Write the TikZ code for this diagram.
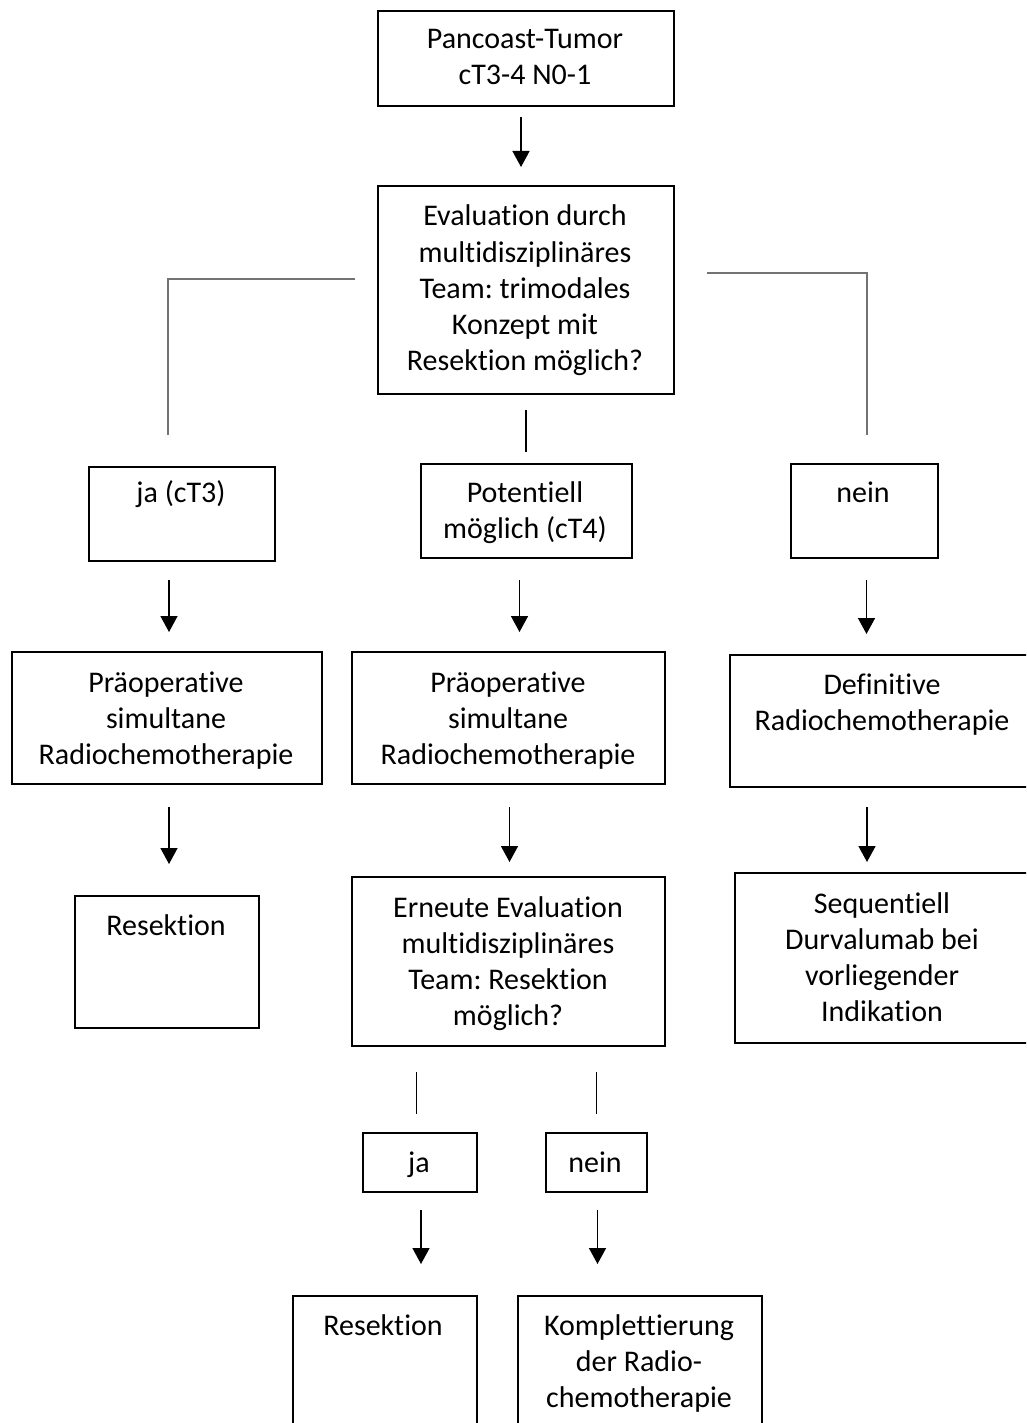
\documentclass[tikz,border=0pt]{standalone}
\usepackage{fontspec}
\setmainfont{Carlito}[Ligatures={NoCommon,NoRare,NoContextual}]
\usetikzlibrary{arrows.meta}
\begin{document}
\frenchspacing
\begin{tikzpicture}[x=1pt,y=-1pt,
  box/.style={draw=black, line width=2pt, inner sep=0pt, anchor=north west},
  txt/.style={font=\fontsize{30}{36}\selectfont\frenchspacing, text width=340pt, align=flush center, anchor=base, inner sep=0pt},
  arr/.style={draw=black, line width=1.5pt, -{Triangle[length=16pt,width=17pt]}},
  conn/.style={draw=black!55, line width=2pt},
  thin/.style={draw=black, line width=1.2pt}]
\useasboundingbox (0,0) rectangle (1026,1423);
\clip (0,0) rectangle (1026,1423);
\fill[white] (0,0) rectangle (1026,1423);

% boxes
\node[box, minimum width=296pt, minimum height=95pt]  (top)   at (377,10)   {};
\node[box, minimum width=296pt, minimum height=208pt] (eval)  at (377,185)  {};
\node[box, minimum width=186pt, minimum height=94pt]  (jac)   at (88,466)   {};
\node[box, minimum width=211pt, minimum height=94pt]  (pot)   at (420,463)  {};
\node[box, minimum width=147pt, minimum height=94pt]  (neinA) at (790,463)  {};
\node[box, minimum width=310pt, minimum height=132pt] (praeL) at (11,651)   {};
\node[box, minimum width=313pt, minimum height=132pt] (praeM) at (351,651)  {};
\node[box, minimum width=306pt, minimum height=132pt] (def)   at (729,654)  {};
\node[box, minimum width=184pt, minimum height=132pt] (resL)  at (74,895)   {};
\node[box, minimum width=313pt, minimum height=169pt] (ern)   at (351,876)  {};
\node[box, minimum width=296pt, minimum height=170pt] (seq)   at (734,872)  {};
\node[box, minimum width=114pt, minimum height=59pt]  (jaB)   at (362,1132) {};
\node[box, minimum width=101pt, minimum height=59pt]  (neinB) at (545,1132) {};
\node[box, minimum width=184pt, minimum height=160pt] (resB)  at (292,1295) {};
\node[box, minimum width=244pt, minimum height=160pt] (kompl) at (517,1295) {};

% texts
\node[txt] (ttop)   at (525,49)   {Pancoast-Tumor\\cT3-4 N0-1};
\node[txt] (teval)  at (525,226)  {Evaluation durch\\multidisziplinäres\\Team: trimodales\\Konzept mit\\Resektion möglich?};
\node[txt] (tjac)   at (181,502)  {ja (cT3)};
\node[txt] (tpot)   at (525,502)  {Potentiell\\möglich (cT4)};
\node[txt] (tneinA) at (863,502)  {nein};
\node[txt] (tpraeL) at (166,692)  {Präoperative\\simultane\\Radiochemotherapie};
\node[txt] (tpraeM) at (508,692)  {Präoperative\\simultane\\Radiochemotherapie};
\node[txt] (tdef)   at (882,694)  {Definitive\\Radiochemotherapie};
\node[txt] (tresL)  at (166,935)  {Resektion};
\node[txt] (tern)   at (508,917)  {Erneute Evaluation\\multidisziplinäres\\Team: Resektion\\möglich?};
\node[txt] (tseq)   at (882,913)  {Sequentiell\\Durvalumab bei\\vorliegender\\Indikation};
\node[txt] (tjaB)   at (419,1172) {ja};
\node[txt] (tneinB) at (595,1172) {nein};
\node[txt] (tresB)  at (383,1335) {Resektion};
\node[txt] (tkompl) at (639,1335) {Komplettierung\\der Radio-\\chemotherapie};

% connectors
\draw[arr] ([xshift=-5pt,yshift=-10pt]top.south) -- ++(0,50);
\draw[conn] ([xshift=-22pt,yshift=11pt]eval.west) -| ([xshift=-14pt,yshift=31pt]jac.north);
\draw[conn] ([xshift=32pt,yshift=17pt]eval.east) -| ([xshift=2pt,yshift=28pt]neinA.north);
\draw[thin] ([yshift=-15pt]eval.south) -- ++(0,42);

\draw[arr] ([xshift=-13pt,yshift=-18pt]jac.south) -- ++(0,52);
\draw[arr] ([xshift=-7pt,yshift=-21pt]pot.south) -- ++(0,52);
\draw[arr] ([xshift=2pt,yshift=-21pt]neinA.south) -- ++(0,54);

\draw[arr] ([xshift=2pt,yshift=-22pt]praeL.south) -- ++(0,57);
\draw[arr] ([xshift=1pt,yshift=-22pt]praeM.south) -- ++(0,55);
\draw[arr] ([xshift=-16pt,yshift=-19pt]def.south) -- ++(0,55);

\draw[thin] ([xshift=-92pt,yshift=-25pt]ern.south) -- ++(0,42);
\draw[thin] ([xshift=88pt,yshift=-25pt]ern.south) -- ++(0,42);

\draw[arr] ([xshift=1pt,yshift=-17pt]jaB.south) -- ++(0,54);
\draw[arr] ([xshift=1pt,yshift=-17pt]neinB.south) -- ++(0,54);
\end{tikzpicture}
\end{document}
